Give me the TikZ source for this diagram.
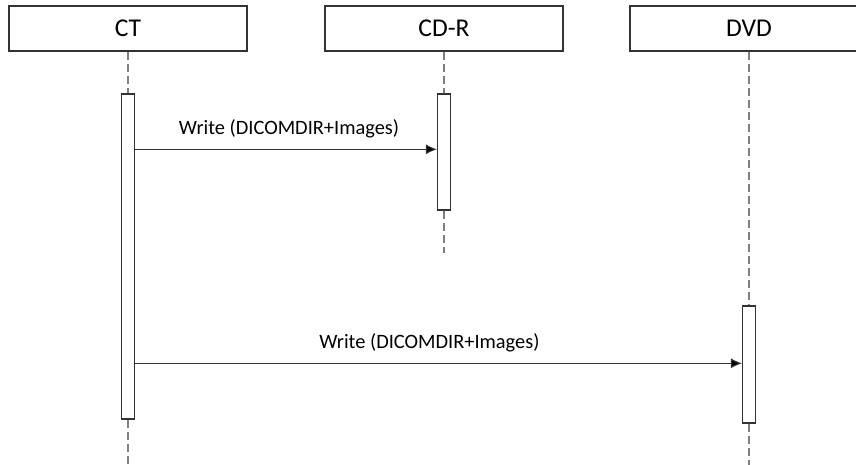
\documentclass[tikz,border=0pt]{standalone}
\usepackage{fontspec}
\setmainfont{Carlito}
\usepackage{xcolor}
\usetikzlibrary{arrows.meta}
\definecolor{vdark}{HTML}{333333}
\definecolor{vgray}{HTML}{7F7F7F}
\tikzset{
	actor/.style = {draw = vdark, line width = 0.55pt, minimum width = 119pt, minimum height = 22.5pt, inner sep = 0pt, font = \fontsize{12.8}{14}\selectfont},
	activation/.style = {draw = vdark, fill = white, line width = 0.55pt, minimum width = 6.5pt, inner sep = 0pt},
	lifeline/.style = {draw = vgray, line width = 0.55pt, dash pattern = on 4pt off 2pt},
	message/.style = {draw = vdark, line width = 0.55pt, -{Latex[length = 5.5pt, width = 5pt, fill = black]}},
	msglabel/.style = {font = \fontsize{10.2}{12}\selectfont, above = 2pt}
}

\begin{document}
\begin{tikzpicture}[x = 0.5pt, y = -0.5pt]
	\useasboundingbox (0,0) rectangle (856,465);
	% actors
	\node[actor] (ct) at (128,28.5) {CT};
	\node[actor] (cdr) at (444,28.5) {CD-R};
	\node[actor] (dvd) at (749,28.5) {DVD};
	% activations
	\node[activation, minimum height = 162.5pt] (ctact) at (128,256.5) {};
	\node[activation, minimum height = 58pt] (cdract) at (444,152) {};
	\node[activation, minimum height = 58.5pt] (dvdact) at (749,364.5) {};
	% lifelines
	\coordinate (ctend) at (128,465);
	\coordinate (cdrend) at (444,253);
	\coordinate (dvdend) at (749,465);
	\draw[lifeline] (ct.south) -- (ctact.north);
	\draw[lifeline] (ctact.south) -- (ctend);
	\draw[lifeline] (cdr.south) -- (cdract.north);
	\draw[lifeline] (cdract.south) -- (cdrend);
	\draw[lifeline] (dvd.south) -- (dvdact.north);
	\draw[lifeline] (dvdact.south) -- (dvdend);
	% messages
	\coordinate (m1) at (0,149.3);
	\coordinate (m2) at (0,363.3);
	\draw[message] (ctact.east |- m1) -- (cdract.west |- m1) node[msglabel, pos = 0.51]{Write (DICOMDIR+Images)};
	\draw[message] (ctact.east |- m2) -- (dvdact.west |- m2) node[msglabel, pos = 0.485]{Write (DICOMDIR+Images)};
\end{tikzpicture}
\end{document}
